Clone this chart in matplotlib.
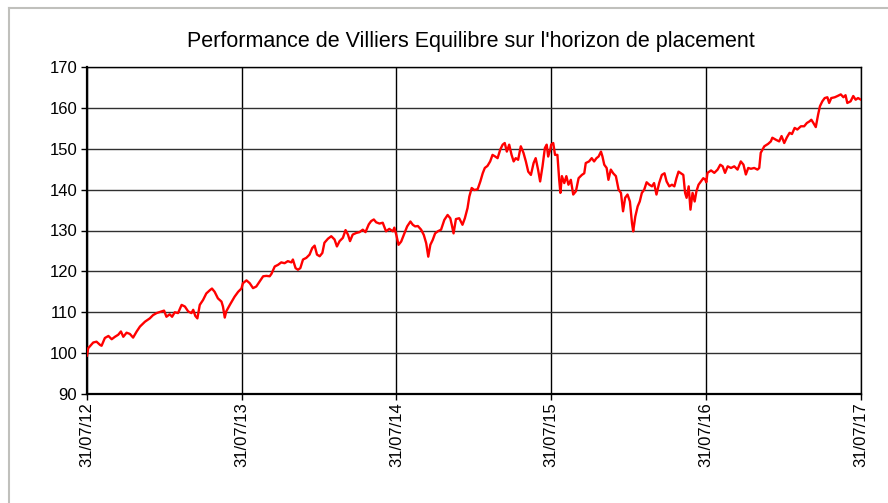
import numpy as np
import pandas as pd
import matplotlib
matplotlib.use('Agg')
import matplotlib.pyplot as plt
import matplotlib.dates as mdates
from matplotlib.lines import Line2D

plt.rcParams['font.family'] = ['Liberation Sans', 'DejaVu Sans']

title = "Performance de Villiers Equilibre sur l'horizon de placement"

# year boundaries (31/07 of each year)
year_starts = ['2012-07-31', '2013-07-31', '2014-07-31', '2015-07-31', '2016-07-31', '2017-07-31']

# week-into-year positions and values, one pair of lists per year
wk1 = [0, 0.4, 2.1, 3.2, 4.4, 4.9, 6.0, 7.2, 8.3, 9.4, 10.5, 11.4, 12.2, 13.3, 14.4, 15.5, 16.7,
       17.8, 19.5, 21.1, 22.2, 23.4, 25.0, 25.9, 26.7, 27.8, 28.6, 29.5, 30.6, 31.8, 32.9, 34.0,
       35.1, 35.7, 36.4, 37.1, 37.9, 39.0, 40.1, 41.3, 42.0, 42.9, 44.0, 45.2, 45.7, 46.3, 46.8,
       48.0, 49.6, 50.8, 51.9]
val1 = [99.4, 101.2, 102.6, 102.8, 102.0, 101.8, 103.7, 104.2, 103.4, 104.0, 104.5, 105.3, 104.0,
        105.0, 104.7, 103.8, 105.3, 106.5, 107.7, 108.5, 109.3, 109.8, 110.2, 110.4, 108.9, 109.5,
        108.9, 110.0, 109.8, 111.8, 111.4, 110.2, 109.8, 110.6, 109.1, 108.5, 111.8, 113.0, 114.6,
        115.4, 115.8, 115.0, 113.4, 112.6, 111.4, 108.7, 110.2, 111.8, 113.8, 115.0, 115.8]

wk2 = [0.4, 1.6, 2.7, 3.8, 4.9, 6.0, 7.2, 8.3, 9.4, 10.0, 11.1, 12.2, 13.3, 14.4, 15.5, 16.7, 17.2,
       18.1, 18.9, 19.7, 20.6, 21.7, 22.8, 23.7, 24.5, 25.3, 26.2, 27.1, 27.8, 29.0, 30.1, 31.2,
       32.0, 32.9, 34.0, 34.9, 35.7, 36.4, 37.3, 38.5, 39.6, 40.7, 41.6, 42.7, 43.5, 44.4, 45.2,
       46.3, 47.4, 48.5, 49.6, 50.8, 51.3]
val2 = [117.1, 117.8, 117.1, 115.9, 116.3, 117.5, 118.8, 118.9, 118.8, 119.4, 121.2, 121.6, 122.2,
        122.0, 122.5, 122.2, 122.9, 120.8, 120.4, 120.8, 122.9, 123.3, 124.1, 125.7, 126.3, 124.1,
        123.7, 124.5, 127.0, 128.0, 128.6, 127.8, 126.1, 127.4, 128.2, 130.1, 129.0, 127.4, 129.0,
        129.4, 129.6, 130.2, 129.6, 131.5, 132.3, 132.7, 132.0, 131.7, 131.9, 129.8, 130.4, 129.8,
        130.7]

wk3 = [0, 0.7, 1.6, 2.7, 3.6, 4.7, 5.5, 6.3, 7.2, 8.3, 9.2, 10.0, 10.7, 11.4, 12.2, 13.0, 13.9,
       15.0, 16.1, 17.2, 18.1, 18.6, 19.2, 20.0, 21.1, 22.2, 23.0, 23.9, 24.5, 25.3, 26.2, 27.3,
       28.2, 29.0, 29.7, 30.6, 31.5, 32.3, 33.2, 34.0, 34.9, 35.7, 36.4, 37.1, 37.9, 38.7, 39.4,
       40.1, 40.9, 41.8, 42.7, 43.5, 44.3, 45.2, 46.1, 46.8, 47.6, 48.3, 49.1, 49.9, 50.5, 51.0,
       51.7]
val3 = [128.8, 126.5, 127.3, 129.3, 131.0, 132.2, 131.4, 131.0, 131.1, 130.2, 128.9, 126.9, 123.6,
        126.5, 127.7, 129.3, 129.8, 130.2, 132.6, 133.8, 133.0, 131.4, 129.3, 132.8, 133.0, 131.4,
        133.0, 135.5, 138.3, 140.4, 139.9, 140.1, 142.0, 144.0, 145.3, 145.8, 146.9, 148.5, 148.1,
        147.7, 149.8, 151.0, 151.4, 149.3, 151.0, 148.5, 146.9, 147.7, 147.3, 150.6, 149.0, 146.9,
        144.4, 143.6, 146.5, 147.7, 144.9, 142.0, 145.7, 150.2, 151.0, 148.1, 149.8]

wk4 = [0, 0.7, 1.3, 2.1, 2.7, 3.1, 3.6, 4.4, 5.1, 5.8, 6.6, 7.4, 8.3, 9.2, 10.3, 11.1, 11.6, 12.7,
       13.6, 14.4, 15.2, 15.9, 16.7, 17.2, 17.8, 18.6, 19.2, 20.0, 20.8, 21.7, 22.6, 23.4, 24.1,
       24.8, 25.6, 26.4, 27.1, 27.5, 28.2, 29.0, 29.7, 30.4, 31.2, 32.0, 32.9, 33.8, 34.5, 35.3,
       36.2, 37.1, 38.0, 38.7, 39.6, 40.5, 41.3, 42.0, 42.7, 43.5, 44.3, 44.9, 45.4, 46.1, 46.7,
       47.4, 48.1, 48.7, 49.4, 50.2, 51.0, 51.7]
val4 = [151.0, 151.4, 148.5, 148.5, 142.4, 139.2, 143.3, 141.6, 143.3, 141.2, 142.4, 138.8, 139.6,
        142.8, 143.6, 144.0, 146.5, 146.9, 147.7, 146.9, 147.7, 148.1, 149.3, 148.1, 146.1, 145.3,
        142.4, 144.9, 144.0, 143.3, 140.0, 139.2, 134.7, 138.0, 138.8, 137.1, 131.8, 129.8, 133.4,
        135.9, 137.1, 139.2, 140.0, 141.8, 141.2, 140.8, 141.6, 138.8, 141.6, 143.6, 144.0, 142.0,
        140.8, 141.2, 140.8, 142.8, 144.4, 144.0, 143.6, 139.2, 138.0, 140.8, 135.1, 139.2, 137.1,
        139.6, 141.2, 142.0, 142.8, 142.4]

wk5 = [0, 0.4, 1.6, 2.7, 3.8, 4.7, 5.5, 6.3, 7.2, 8.3, 9.4, 10.5, 11.6, 12.5, 13.3, 14.1, 15.0,
       16.1, 17.2, 17.8, 18.3, 19.5, 20.8, 21.7, 22.2, 23.4, 24.5, 25.3, 26.2, 27.1, 28.0, 28.8,
       29.7, 30.6, 31.8, 32.9, 33.8, 34.7, 35.3, 36.0, 36.8, 37.6, 38.2, 39.0, 39.8, 40.7, 41.3,
       42.0, 43.2, 44.1, 45.2, 46.1, 46.8, 47.4, 48.5, 49.4, 50.2, 51.0, 52.0]
val5 = [141.8, 144.1, 144.7, 144.1, 144.9, 146.1, 145.7, 144.1, 145.7, 145.3, 145.7, 144.9, 146.9,
        146.1, 143.7, 145.3, 145.1, 145.3, 144.9, 145.3, 149.0, 150.6, 151.2, 151.8, 152.7, 152.2,
        151.8, 153.1, 151.4, 152.8, 153.9, 153.6, 155.1, 154.7, 155.5, 155.5, 156.3, 156.7, 157.1,
        156.3, 155.3, 158.4, 160.4, 161.6, 162.4, 162.6, 161.2, 162.4, 162.6, 162.9, 163.3, 162.6,
        163.1, 161.2, 161.6, 162.9, 162.0, 162.4, 162.0]

weeks = [wk1, wk2, wk3, wk4, wk5]
vals = [val1, val2, val3, val4, val5]

# turn week positions into real dates
bounds = pd.to_datetime(year_starts)
dates = []
values = []
for i in range(5):
    span = bounds[i + 1] - bounds[i]
    for w, v in zip(weeks[i], vals[i]):
        dates.append(bounds[i] + span * (w / 52.0))
        values.append(v)

fig = plt.figure(figsize=(8.88, 5.03), dpi=100)
ax = fig.add_axes([87 / 888, 1 - 394 / 503, (861 - 87) / 888, (394 - 67) / 503])

ax.plot(dates, values, color='#ff0000', lw=1.7, zorder=3)

ax.set_xlim(bounds[0], bounds[-1])
ax.set_ylim(90, 170)
ax.set_yticks(np.arange(90, 171, 10))
ax.set_xticks(bounds)
ax.xaxis.set_major_formatter(mdates.DateFormatter('%d/%m/%y'))
ax.tick_params(axis='x', labelrotation=90, labelsize=12, length=4, pad=2, width=1)
ax.tick_params(axis='y', labelsize=12, length=4, pad=3, width=1)

# grid
ax.grid(True, axis='y', color='#303030', lw=1)
ax.grid(True, axis='x', color='black', lw=1)
ax.set_axisbelow(True)
for s in ax.spines.values():
    s.set_color('black')
    s.set_linewidth(1)
ax.spines['left'].set_linewidth(1.6)
ax.spines['bottom'].set_linewidth(1.6)

fig.text(471 / 888, 1 - 42 / 503, title, ha='center', va='center', fontsize=15.5)

# grey chart frame (left and top edges visible)
fig.add_artist(Line2D([8.5 / 888, 8.5 / 888], [0, 1 - 7.5 / 503], transform=fig.transFigure,
                      color='#c0c0bc', lw=1.5))
fig.add_artist(Line2D([8.5 / 888, 1], [1 - 7.5 / 503, 1 - 7.5 / 503], transform=fig.transFigure,
                      color='#c0c0bc', lw=1.5))

fig.savefig('out.png', dpi=100)
